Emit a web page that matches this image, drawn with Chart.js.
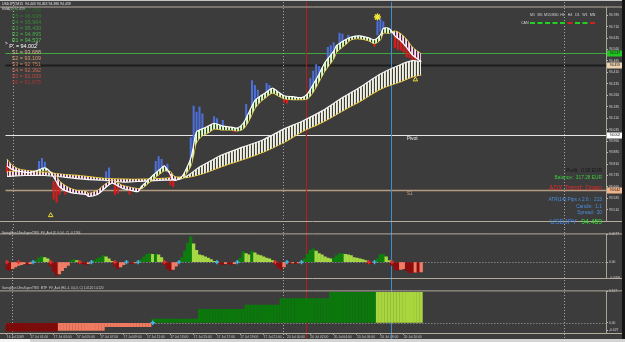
<!DOCTYPE html>
<html>
<head>
<meta charset="utf-8">
<title>USDJPY M15</title>
<script src="https://cdn.jsdelivr.net/npm/chart.js@4.4.1/dist/chart.umd.min.js"></script>
<style>
  body { margin: 0; background: #3c3c3c; }
  #screen { position: relative; width: 625px; height: 342px; overflow: hidden; background: #3c3c3c; }
  #screen canvas { position: absolute; left: 0; }
  #topLine { position: absolute; left: 0; top: 0; width: 625px; height: 1px; background: #c4c4c4; }
  #tabs { position: absolute; left: 0; top: 339px; width: 625px; height: 3px; background: #d4d4d4; }
  #tab { position: absolute; left: 0; top: 339px; width: 30px; height: 3px; background: #f6f6f6; }
  #edge { position: absolute; right: 0; top: 0; width: 3px; height: 339px; background: #141414; }
</style>
</head>
<body>
<div id="screen">
  <div id="topLine"></div>
  <canvas id="mainChart" width="625" height="228" style="top:2px"></canvas>
  <canvas id="trixChart" width="625" height="57" style="top:229px"></canvas>
  <canvas id="mtfChart" width="625" height="54" style="top:286px"></canvas>
  <div id="edge"></div>
  <div id="tabs"></div>
  <div id="tab"></div>
</div>
<script>
Chart.defaults.font.family = '"Liberation Sans", Arial, sans-serif';

// ---- time axis (M15 bars, bar 0 = first bar on screen) ----
const timeTickBars = [0, 8, 16, 24, 32, 40, 48, 56, 64, 72, 80, 88, 96, 104, 112, 120, 128, 136];
const timeLabels = ['16 Jul 2009', '17 Jul 01:00', '17 Jul 03:00', '17 Jul 05:00', '17 Jul 07:00', '17 Jul 09:00',
    '17 Jul 11:00', '17 Jul 13:00', '17 Jul 15:00', '17 Jul 17:00', '17 Jul 19:00', '17 Jul 21:00',
    '20 Jul 00:00', '20 Jul 02:00', '20 Jul 04:00', '20 Jul 06:00', '20 Jul 08:00', '20 Jul 10:00'];

// ---- price panel ----
const priceTicks = [94.785, 94.710, 94.635, 94.560, 94.485, 94.410, 94.335, 94.260, 94.185, 94.110,
    94.035, 93.960, 93.885, 93.810, 93.735, 93.660, 93.585, 93.510];

// fast ribbon (white line / yellow line)
const fastBars = [0, 2, 5, 8, 10, 11, 13, 15, 17, 18, 20, 22, 24, 27, 28, 31, 33, 36, 38, 40,
    43, 45, 46, 47, 50, 53, 54, 56, 57, 58, 60, 61, 63, 64, 65, 67, 69, 71, 74, 77,
    79, 81, 83, 85, 87, 89, 91, 93, 95, 98, 101, 103, 105, 107, 109, 112, 113, 116, 118, 121,
    124, 126, 128, 129, 131, 133, 135, 137, 139, 142];
const fastWhite = [93.797, 93.772, 93.760, 93.754, 93.766, 93.772, 93.785, 93.754, 93.692, 93.661,
    93.636, 93.623, 93.617, 93.611, 93.598, 93.611, 93.642, 93.685, 93.667, 93.648,
    93.636, 93.630, 93.661, 93.679, 93.735, 93.785, 93.797, 93.741, 93.710, 93.704,
    93.729, 93.760, 93.847, 93.934, 94.021, 94.040, 94.058, 94.077, 94.058, 94.052,
    94.046, 94.077, 94.151, 94.226, 94.257, 94.282, 94.307, 94.282, 94.257, 94.251,
    94.245, 94.270, 94.332, 94.400, 94.475, 94.549, 94.586, 94.624, 94.642, 94.649,
    94.636, 94.624, 94.655, 94.698, 94.698, 94.649, 94.617, 94.574, 94.524, 94.481];
const fastYellow = [93.841, 93.797, 93.772, 93.766, 93.760, 93.760, 93.766, 93.760, 93.729, 93.698,
    93.667, 93.648, 93.636, 93.630, 93.617, 93.636, 93.667, 93.704, 93.685, 93.667,
    93.654, 93.648, 93.648, 93.661, 93.710, 93.754, 93.766, 93.760, 93.735, 93.723,
    93.716, 93.735, 93.797, 93.872, 93.953, 93.996, 94.015, 94.040, 94.033, 94.033,
    94.027, 94.040, 94.096, 94.176, 94.220, 94.251, 94.276, 94.257, 94.238, 94.232,
    94.232, 94.238, 94.282, 94.350, 94.419, 94.500, 94.543, 94.593, 94.624, 94.630,
    94.617, 94.599, 94.624, 94.667, 94.667, 94.680, 94.661, 94.624, 94.574, 94.530];

// slow ribbon
const slowBars = [0, 6, 13, 20, 27, 33, 40, 47, 54, 59, 62, 66, 69, 74, 81, 88, 95, 101, 108, 115, 122, 128, 135, 139, 142];
const slowWhite = [93.729, 93.735, 93.735, 93.723, 93.710, 93.704, 93.692, 93.698, 93.704, 93.710,
    93.735, 93.791, 93.822, 93.872, 93.922, 93.971, 94.040, 94.089, 94.158, 94.245,
    94.325, 94.400, 94.462, 94.487, 94.481];
const slowYellow = [93.760, 93.760, 93.754, 93.741, 93.729, 93.716, 93.710, 93.710, 93.716, 93.723,
    93.723, 93.741, 93.760, 93.797, 93.841, 93.890, 93.953, 94.021, 94.083, 94.158,
    94.232, 94.301, 94.350, 94.381, 94.394];

// candle wicks sticking out of the ribbons
const blueWickBars = [11, 12, 13, 34, 35, 51, 52, 53, 55, 63, 64, 65, 66, 67, 71, 72, 74, 82, 84, 85, 86,
    89, 90, 104, 105, 106, 107, 110, 111, 112, 114, 115, 117, 127, 128, 129];
const blueWickLow = [93.772, 93.779, 93.785, 93.698, 93.704, 93.735, 93.748, 93.785, 93.760, 93.828,
    93.922, 94.015, 94.027, 94.040, 94.071, 94.058, 94.058, 94.077, 94.183, 94.214, 94.232,
    94.276, 94.282, 94.263, 94.307, 94.357, 94.388, 94.468, 94.512, 94.543, 94.593, 94.605, 94.624,
    94.655, 94.680, 94.686];
const blueWickHigh = [93.828, 93.847, 93.822, 93.760, 93.785, 93.828, 93.859, 93.841, 93.810, 93.984,
    94.189, 94.151, 94.183, 94.139, 94.120, 94.108, 94.096, 94.201, 94.357, 94.325, 94.294,
    94.338, 94.325, 94.369, 94.419, 94.462, 94.450, 94.574, 94.586, 94.605, 94.667, 94.661, 94.655,
    94.742, 94.760, 94.742];
const redWickBars = [0, 1, 16, 17, 18, 20, 37, 38, 42, 56, 57, 78, 95, 96, 126, 133, 134, 135, 136, 137, 138, 139, 140];
const redWickHigh = [93.810, 93.797, 93.698, 93.685, 93.673, 93.661, 93.685, 93.673, 93.648, 93.748, 93.723,
    94.046, 94.251, 94.245, 94.617, 94.667, 94.636, 94.617, 94.605, 94.574, 94.555, 94.530, 94.543];
const redWickLow = [93.754, 93.748, 93.580, 93.561, 93.611, 93.611, 93.611, 93.617, 93.611, 93.673, 93.661,
    94.021, 94.214, 94.208, 94.580, 94.574, 94.561, 94.555, 94.543, 94.512, 94.506, 94.481, 94.493];

const starBars = [127];
const starPrices = [94.773];
const arrowBars = [15, 140];
const arrowPrices = [93.474, 94.363];

// pivot block + horizontal levels
const pivotNames = ['R6', 'R5', 'R4', 'R3', 'R2', 'R1', 'P', 'S1', 'S2', 'S3', 'S4', 'S5', 'S6'];
const pivotValues = [97.056, 96.698, 95.964, 95.430, 94.895, 94.537, 94.002, 93.688, 93.109, 92.751, 92.392, 92.033, 91.675];
const levelNames = ['R1', 'Bid', 'Pivot', 'S1'];
const levelValues = [94.537, 94.459, 94.002, 93.642];

// vertical markers (bar positions)
const separatorBars = [1.9, 94.6, 191.1];
const redLineBar = 102.4;
const blueLineBar = 131.6;

// timeframe status row
const tfNames = ['M1', 'M5', 'M15', 'M30', 'H1', 'H4', 'D1', 'W1', 'MN'];
const tfStatus = ['up', 'up', 'up', 'up', 'up', 'down', 'up', 'up', 'down'];

// ---- TRIX histogram panel ----
const trixValues = [-0.0020, -0.0022, -0.0018, -0.0013, -0.0009, -0.0007, -0.0004, -0.0007, -0.0004, 0,
    0.0004, 0.0011, 0.0015, 0.0013, 0.0009, -0.0011, -0.0026, -0.0037, -0.0033, -0.0024,
    -0.0015, -0.0009, 0.0004, 0.0007, 0.0004, -0.0004, -0.0004, -0.0007, -0.0004, 0,
    0.0004, 0.0009, 0.0013, 0.0018, 0.0015, 0.0009, 0.0002, -0.0011, -0.0018, -0.0013,
    -0.0007, 0, -0.0002, -0.0004, -0.0002, 0, 0.0007, 0.0015, 0.0022, 0.0024,
    0.0022, 0.0022, 0.0020, 0.0013, -0.0007, -0.0018, -0.0024, -0.0020, -0.0011, 0,
    0.0013, 0.0031, 0.0053, 0.0070, 0.0051, 0.0033, 0.0020, 0.0018, 0.0015, 0.0011,
    0.0007, 0.0002, 0, -0.0004, -0.0007, -0.0004, -0.0004, -0.0007, -0.0004, 0,
    0.0011, 0.0029, 0.0024, 0.0020, 0.0031, 0.0026, 0.0020, 0.0018, 0.0015, 0.0011,
    0.0009, 0.0004, -0.0007, -0.0015, -0.0020, -0.0013, 0, -0.0004, -0.0002, -0.0004,
    -0.0002, 0, 0.0009, 0.0022, 0.0033, 0.0037, 0.0031, 0.0024, 0.0020, 0.0015,
    0.0011, 0.0009, 0.0011, 0.0018, 0.0024, 0.0024, 0.0022, 0.0020, 0.0018, 0.0013,
    0.0011, 0.0009, 0.0007, 0.0004, -0.0004, -0.0004, 0, 0.0009, 0.0020, 0.0022,
    0.0015, 0.0004, -0.0009, -0.0020, -0.0022, -0.0020, -0.0018, -0.0024, -0.0029, -0.0029,
    -0.0028, -0.0028, -0.0027];
const trixBlueCross = [9, 29, 41, 45, 59, 72, 79, 96, 101, 126];
const trixRedCross = [0, 4, 15, 25, 37, 54, 92, 124, 132];
const trixTicks = [0.0077, 0, -0.0044];
const trixTickText = ['0.0077', '0.00', '-0.0058'];

// ---- MTF step histogram panel (runs of equal bars) ----
const mtfLevels = [-0.031, -0.028, -0.0145, 0.0135, 0.0505, 0.066, 0.090, 0.1135, 0.1135];
const mtfRuns = [18, 16, 16, 16, 16, 12, 17, 16, 16];
const mtfTones = ['fall', 'rise', 'rise', 'strong', 'strong', 'strong', 'strong', 'strong', 'weak'];
const mtfCross = [50];
const mtfTicks = [0.117, 0, -0.027];

// ---------------------------------------------------------------
const pxPerBar = 2.944;
const lastVisibleBar = 606 / pxPerBar - 0.5;

const stripes = (cols) => {
    const c = document.createElement('canvas');
    c.width = cols.length; c.height = 1;
    const g = c.getContext('2d');
    cols.forEach((col, i) => { g.fillStyle = col; g.fillRect(i, 0, 1, 1); });
    return document.getElementById('mainChart').getContext('2d').createPattern(c, 'repeat');
};
const fastUp = stripes(['#c2eaa8', '#e4f6d2', '#2e3e2a']);
const fastDown = stripes(['#f0b0dc', '#fbe2f2', '#3a2834']);
const slowUp = stripes(['#f0f0e4', '#dcdccc', '#3a3a36']);
const slowDown = stripes(['#f5e0ec', '#ecccdc', '#4a2a30']);

const xy = (xs, ys) => xs.map((x, i) => ({ x, y: ys[i] }));
const onZero = (xs) => xs.map((x) => ({ x, y: 0 }));

const verticals = [
    ...separatorBars.map((bar) => ({ bar, color: '#a8a8a8', dash: [1, 2] })),
    { bar: redLineBar, color: '#b81c1c', dash: [] },
    { bar: blueLineBar, color: '#3b8fd0', dash: [] }
];

const xAxis = (show) => ({
    type: 'linear', min: -0.5, max: lastVisibleBar, offset: false, display: show,
    grid: { display: show, drawOnChartArea: false, drawTicks: true, tickLength: 2, color: '#9c9c9c', offset: false },
    border: { display: false },
    afterBuildTicks: (s) => { s.ticks = timeTickBars.map((v) => ({ value: v })); },
    afterFit: (s) => { s.height = 7; s.paddingLeft = 0; s.paddingRight = 0; },
    ticks: {
        autoSkip: false, maxRotation: 0, minRotation: 0, align: 'start', padding: 0,
        color: '#c8c8c8', font: { size: 3.3 },
        callback: (v, i) => timeLabels[i]
    }
});

const yAxis = (min, max, ticks, label) => ({
    type: 'linear', position: 'right', min, max,
    afterBuildTicks: (s) => { s.ticks = ticks.map((v) => ({ value: v })); },
    afterFit: (s) => { s.width = 19; s.paddingTop = 0; s.paddingBottom = 0; },
    grid: { drawOnChartArea: false, drawTicks: true, tickLength: 2, color: '#bdbdbd' },
    border: { display: true, color: '#aaa496' },
    ticks: { autoSkip: false, padding: 1, color: '#d2d2d2', font: { size: 3.3 }, callback: label }
});

const baseOptions = (padding, scales) => ({
    responsive: false, animation: false, devicePixelRatio: 1,
    layout: { padding },
    plugins: { legend: { display: false }, tooltip: { enabled: false } },
    elements: { point: { radius: 0 } },
    scales
});

// draws levels, separators, panel frames, axis boxes and the texts of each panel
const makeDecor = (cfg) => ({
    id: 'decor',
    beforeDatasetsDraw(chart) {
        const { ctx, chartArea: a, scales: { x, y } } = chart;
        ctx.save();
        (cfg.levels || []).forEach((l) => {
            const py = Math.round(y.getPixelForValue(l.value)) + 0.5;
            ctx.strokeStyle = l.color; ctx.lineWidth = l.width; ctx.setLineDash(l.dash || []);
            ctx.beginPath(); ctx.moveTo(a.left, py); ctx.lineTo(a.right, py); ctx.stroke();
        });
        ctx.lineWidth = 1;
        verticals.forEach((v) => {
            const px = Math.round(x.getPixelForValue(v.bar)) + 0.5;
            ctx.strokeStyle = v.color; ctx.setLineDash(v.dash);
            ctx.beginPath(); ctx.moveTo(px, 0); ctx.lineTo(px, chart.height); ctx.stroke();
        });
        ctx.restore();
    },
    afterDraw(chart) {
        const { ctx, chartArea: a, scales: { x, y } } = chart;
        ctx.save();
        ctx.setLineDash([]);
        ctx.strokeStyle = '#b3ab9c'; ctx.lineWidth = 1;
        ctx.beginPath();
        ctx.moveTo(0, a.top - 0.5); ctx.lineTo(chart.width, a.top - 0.5);
        ctx.moveTo(0, a.bottom + 0.5); ctx.lineTo(chart.width, a.bottom + 0.5);
        ctx.stroke();

        ctx.textBaseline = 'middle';
        (cfg.levels || []).forEach((l) => {
            if (!l.box) return;
            const py = Math.round(y.getPixelForValue(l.value)) + 0.5;
            ctx.fillStyle = l.box;
            ctx.fillRect(a.right + 1, py - 3, 16, 6);
            ctx.fillStyle = '#111';
            ctx.font = '3.4px "Liberation Sans", Arial, sans-serif';
            ctx.textAlign = 'center';
            ctx.fillText(l.value.toFixed(3), a.right + 9, py);
            if (l.tag) {
                ctx.fillStyle = l.tagColor;
                ctx.font = '5px "Liberation Sans", Arial, sans-serif';
                ctx.textAlign = 'left';
                ctx.fillText(l.tag, x.getPixelForValue(cfg.tagBar), py + 3.5);
            }
        });
        (cfg.swatches || []).forEach((s) => {
            ctx.fillStyle = s.color;
            ctx.fillRect(s.x, s.y, s.w, s.h);
        });
        (cfg.captions || []).forEach((c) => {
            ctx.font = `${c.size}px "Liberation Sans", Arial, sans-serif`;
            ctx.fillStyle = c.color;
            ctx.textAlign = c.align || 'left';
            ctx.fillText(c.text, c.x, c.y);
        });
        ctx.restore();
    }
});

// ---------------- main price chart ----------------
const pivotColors = ['#286628', '#2f7d31', '#37893a', '#3e9842', '#47a94b', '#52c452', '#ffffff',
    '#d9b58c', '#d99a6c', '#cf8260', '#cc6a52', '#c04a40', '#a83a36'];
const mainCaptions = [
    { text: 'USDJPY,M15  94.403 94.463 94.386 94.459', x: 2, y: 2.2, size: 3.5, color: '#e4e4e4' },
    { text: 'EMA(5) 94.459', x: 2, y: 6.6, size: 3.4, color: '#cfcfcf' },
    { text: '>', x: 5, y: 42, size: 4.5, color: '#ffffff' },
    { text: '<', x: 35.5, y: 42, size: 4.5, color: '#ffffff' },
    { text: 'CAN', x: 521, y: 21, size: 3.6, color: '#d4d4d4' },
    { text: 'Profit:  0.00 EUR', x: 602, y: 168.7, size: 4.8, color: '#161616', align: 'right' },
    { text: 'Balance:  317.28 EUR', x: 602, y: 176, size: 4.8, color: '#3bcb3b', align: 'right' },
    { text: 'ADX Trend: Down', x: 602, y: 186, size: 6.6, color: '#e42a2a', align: 'right' },
    { text: 'ATR(14) Pips x 2.6 :  213', x: 602, y: 198, size: 4.8, color: '#4b8fe2', align: 'right' },
    { text: 'Candle:  1:1', x: 602, y: 205, size: 4.8, color: '#4b8fe2', align: 'right' },
    { text: 'Spread:  20', x: 602, y: 211, size: 4.8, color: '#4b8fe2', align: 'right' },
    { text: 'USDJPY', x: 550, y: 220, size: 6.8, color: '#3d86e6' },
    { text: '94.459', x: 602, y: 220, size: 6.8, color: '#33e033', align: 'right' }
];
pivotNames.forEach((name, k) => {
    const isP = name === 'P';
    mainCaptions.push({
        text: isP ? `P  = ${pivotValues[k].toFixed(3)}` : `${name} = ${pivotValues[k].toFixed(3)}`,
        x: isP ? 9.3 : 11.7, y: 8.8 + 5.94 * k, size: 5.4, color: pivotColors[k]
    });
});
const swatches = [];
tfNames.forEach((name, i) => {
    const cx = 532.5 + i * 7.5;
    mainCaptions.push({ text: name, x: cx, y: 13, size: 3.6, color: '#d4d4d4', align: 'center' });
    swatches.push({ x: cx - 2.5, y: 20, w: 5, h: 2, color: tfStatus[i] === 'up' ? '#22d022' : '#d42020' });
});

const levelStyles = [
    { color: '#3ea83e', width: 1, box: '#22c622' },
    { color: '#1c1c1c', width: 2, box: '#ecd2ae' },
    { color: '#e6e6e6', width: 1, box: '#ffffff', tag: 'Pivot', tagColor: '#e8e8e8' },
    { color: '#b59a80', width: 1.5, box: '#f2b48a', tag: 'S1', tagColor: '#c8a07c' }
];

new Chart(document.getElementById('mainChart'), {
    type: 'line',
    data: {
        datasets: [
            { type: 'bar', label: 'Up wicks', data: blueWickBars.map((b, i) => ({ x: b, y: [blueWickLow[i], blueWickHigh[i]] })),
              backgroundColor: '#4d6fd8', barThickness: 1.4, grouped: false, order: 6 },
            { type: 'bar', label: 'Down wicks', data: redWickBars.map((b, i) => ({ x: b, y: [redWickLow[i], redWickHigh[i]] })),
              backgroundColor: '#dc1c1c', barThickness: 1.4, grouped: false, order: 6 },
            { label: 'Slow white', data: xy(slowBars, slowWhite), borderColor: '#f4f4f4', borderWidth: 1.2, tension: 0.3,
              fill: { target: '+1', above: slowUp, below: slowDown }, order: 5 },
            { label: 'Slow yellow', data: xy(slowBars, slowYellow), borderColor: '#eecd33', borderWidth: 1.4, tension: 0.3, order: 5 },
            { label: 'Fast white', data: xy(fastBars, fastWhite), borderColor: '#ffffff', borderWidth: 1.2, tension: 0.3,
              fill: { target: '+1', above: fastUp, below: fastDown }, order: 4 },
            { label: 'Fast yellow', data: xy(fastBars, fastYellow), borderColor: '#f2d23c', borderWidth: 1.2, tension: 0.3, order: 4 },
            { label: 'Top', data: xy(starBars, starPrices), showLine: false, pointStyle: 'star', pointRadius: 3.5,
              borderColor: '#f5e63a', borderWidth: 1.5, order: 1 },
            { label: 'Signals', data: xy(arrowBars, arrowPrices), showLine: false, pointStyle: 'triangle', pointRadius: 2.6,
              borderColor: '#f0d83a', backgroundColor: 'rgba(0,0,0,0)', borderWidth: 1, order: 1 }
        ]
    },
    options: baseOptions({ top: 1, bottom: 2, left: 0, right: 0 }, {
        x: xAxis(false),
        y: yAxis(93.437, 94.835, priceTicks, (v) => v.toFixed(3))
    }),
    plugins: [makeDecor({
        levels: levelValues.map((value, i) => ({ value, name: levelNames[i], ...levelStyles[i] })),
        tagBar: 137,
        captions: mainCaptions,
        swatches
    })]
});

// ---------------- TRIX histogram ----------------
const trixColors = trixValues.map((v, i) => {
    const prev = i ? trixValues[i - 1] : v;
    if (v >= 0) return v >= prev ? '#0e7d0e' : '#a6d845';
    return v <= prev ? '#8a0e0e' : '#f27d67';
});

new Chart(document.getElementById('trixChart'), {
    type: 'line',
    data: {
        datasets: [
            { type: 'bar', label: 'TRIX', data: trixValues.map((v, i) => ({ x: i, y: v })),
              backgroundColor: trixColors, barThickness: 2.7, grouped: false, order: 3 },
            { label: 'Cross up', data: onZero(trixBlueCross), showLine: false, pointStyle: 'cross', pointRadius: 2.2,
              borderColor: '#47b6ea', borderWidth: 1.4, order: 1 },
            { label: 'Cross down', data: onZero(trixRedCross), showLine: false, pointStyle: 'cross', pointRadius: 2.2,
              borderColor: '#e23030', borderWidth: 1.4, order: 1 }
        ]
    },
    options: baseOptions({ top: 1, bottom: 1, left: 0, right: 0 }, {
        x: xAxis(false),
        y: yAxis(-0.0044, 0.0077, trixTicks, (v, i) => trixTickText[i])
    }),
    plugins: [makeDecor({
        levels: [{ value: 0, color: '#a8a8a8', width: 1, dash: [1, 2] }],
        captions: [{ text: 'SwingMan UltraSuperTRIX_FV_Acd (3, 0,0,0, C) -0.1764', x: 2, y: 4.5, size: 3.1, color: '#cfcfcf' }]
    })]
});

// ---------------- MTF step histogram ----------------
const toneColors = { fall: '#7e0a0a', rise: '#f27a60', strong: '#0b780b', weak: '#a8d63c' };
const mtfValues = [];
const mtfColors = [];
mtfLevels.forEach((level, k) => {
    for (let n = 0; n < mtfRuns[k]; n++) {
        mtfValues.push(level);
        mtfColors.push(toneColors[mtfTones[k]]);
    }
});

new Chart(document.getElementById('mtfChart'), {
    type: 'line',
    data: {
        datasets: [
            { type: 'bar', label: 'MTF', data: mtfValues.map((v, i) => ({ x: i, y: v })),
              backgroundColor: mtfColors, barThickness: 2.4, grouped: false, order: 3 },
            { label: 'Cross', data: onZero(mtfCross), showLine: false, pointStyle: 'cross', pointRadius: 2.2,
              borderColor: '#47b6ea', borderWidth: 1.4, order: 1 }
        ]
    },
    options: baseOptions({ top: 1, bottom: 0, left: 0, right: 0 }, {
        x: xAxis(true),
        y: yAxis(-0.038, 0.117, mtfTicks, (v) => (v === 0 ? '0.00' : v.toFixed(3)))
    }),
    plugins: [makeDecor({
        levels: [{ value: 0, color: '#a8a8a8', width: 1, dash: [1, 2] }],
        captions: [{ text: 'SwingMan UltraSuperTRIX_MTF_FV_Acd (H4, 4, 0,0,0, C) 1.0120 1.0120', x: 2, y: 2.5, size: 3.1, color: '#cfcfcf' }]
    })]
});
</script>
</body>
</html>
